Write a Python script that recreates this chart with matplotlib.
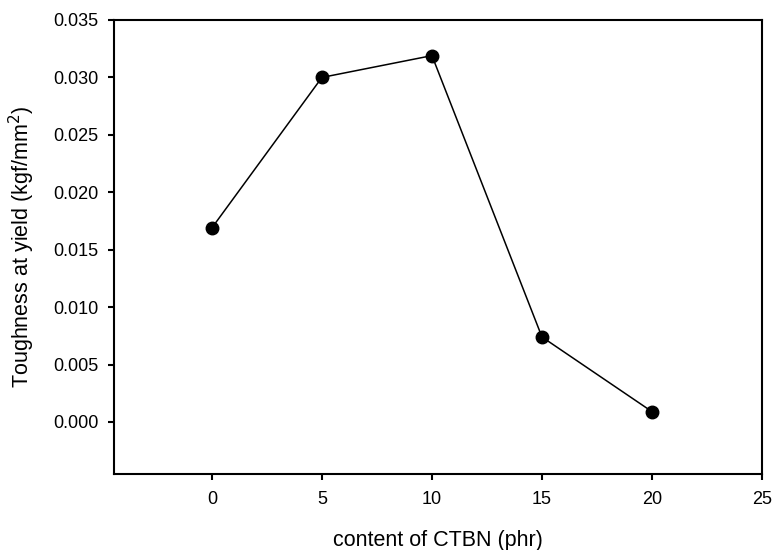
import matplotlib.pyplot as plt

plt.rcParams['font.family'] = ['Liberation Sans', 'DejaVu Sans']

ctbn = [0, 5, 10, 15, 20]
toughness = [0.0169, 0.0300, 0.0319, 0.0074, 0.0009]

xticks = [0, 5, 10, 15, 20, 25]
yticks = [0.000, 0.005, 0.010, 0.015, 0.020, 0.025, 0.030, 0.035]

fig = plt.figure(figsize=(7.72, 5.5), dpi=100)
ax = fig.add_axes([114 / 772, 1 - 474 / 550, (762 - 114) / 772, (474 - 20) / 550])

ax.plot(ctbn, toughness, color='black', linewidth=1.1, marker='o', markersize=9)

ax.set_xlim(-4.45, 25)
ax.set_ylim(-0.00453, 0.035)
ax.set_xticks(xticks)
ax.set_yticks(yticks)
ax.set_yticklabels([f"{v:.3f}" for v in yticks])

for s in ax.spines.values():
    s.set_linewidth(1.5)
ax.tick_params(direction='out', length=4, width=1.5, labelsize=13, pad=7)
ax.tick_params(axis='x', pad=8)

ax.set_xlabel("content of CTBN (phr)", fontsize=15.5, labelpad=16)
ax.set_ylabel("Toughness at yield (kgf/mm$^2$)", fontsize=15.5, labelpad=12)

fig.savefig("out.png", dpi=100)
plt.close()
